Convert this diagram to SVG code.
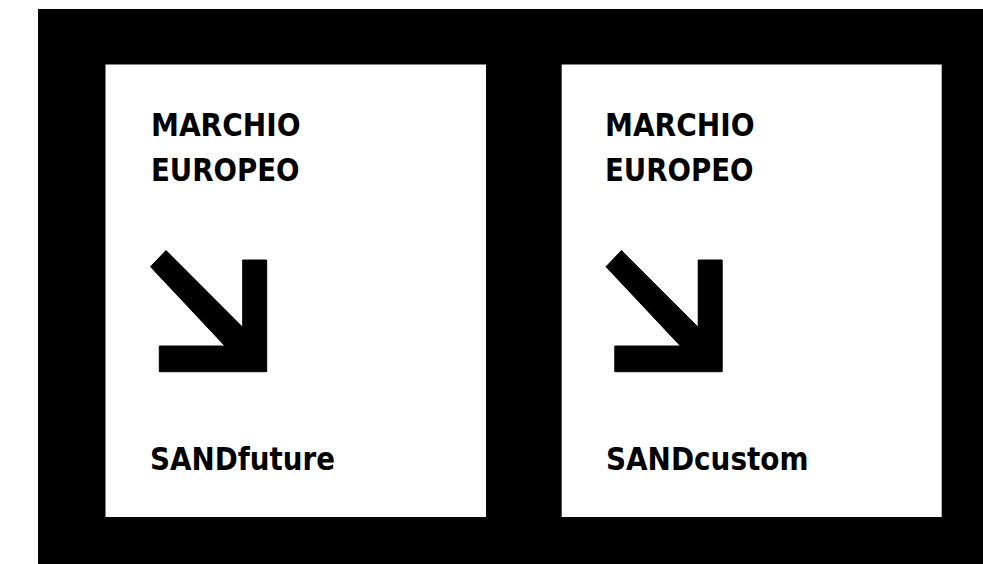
<svg xmlns="http://www.w3.org/2000/svg" width="983" height="564" viewBox="0 0 983 564">
<style>
.lbl{font-family:"DejaVu Sans Condensed","DejaVu Sans","Liberation Sans",sans-serif;font-stretch:condensed;font-weight:bold;font-size:32px;fill:#000}
.panel{fill:#fff}
.arr{fill:#000;stroke:#000;stroke-width:1;stroke-linejoin:round}
</style>
<defs>
<path id="arrow" d="M150.5,266.7 L166,250.5 L242.7,327.3 L242.7,260 L266.7,260 L266.7,371.7 L159.3,371.7 L159.3,346 L225,346 Z"/>
</defs>
<rect x="0" y="0" width="983" height="564" fill="#fff"/>
<rect x="38" y="9" width="945" height="555" fill="#000"/>
<g id="node-sandfuture">
<rect class="panel" x="105.5" y="64.5" width="380.5" height="452.5"/>
<text class="lbl" x="151" y="136" textLength="149.5" lengthAdjust="spacingAndGlyphs">MARCHIO</text>
<text class="lbl" x="151" y="180.5" textLength="148.5" lengthAdjust="spacingAndGlyphs">EUROPEO</text>
<use href="#arrow" class="arr"/>
<text class="lbl" x="150" y="469.5" textLength="185" lengthAdjust="spacingAndGlyphs">SANDfuture</text>
</g>
<g id="node-sandcustom">
<rect class="panel" x="561.7" y="64.5" width="380" height="452.5"/>
<text class="lbl" x="605" y="136" textLength="149.5" lengthAdjust="spacingAndGlyphs">MARCHIO</text>
<text class="lbl" x="605" y="180.5" textLength="148.5" lengthAdjust="spacingAndGlyphs">EUROPEO</text>
<use href="#arrow" class="arr" transform="translate(455.5,0)"/>
<text class="lbl" x="606" y="469.5" textLength="202.5" lengthAdjust="spacingAndGlyphs">SANDcustom</text>
</g>
<g id="connectors"></g>
</svg>
